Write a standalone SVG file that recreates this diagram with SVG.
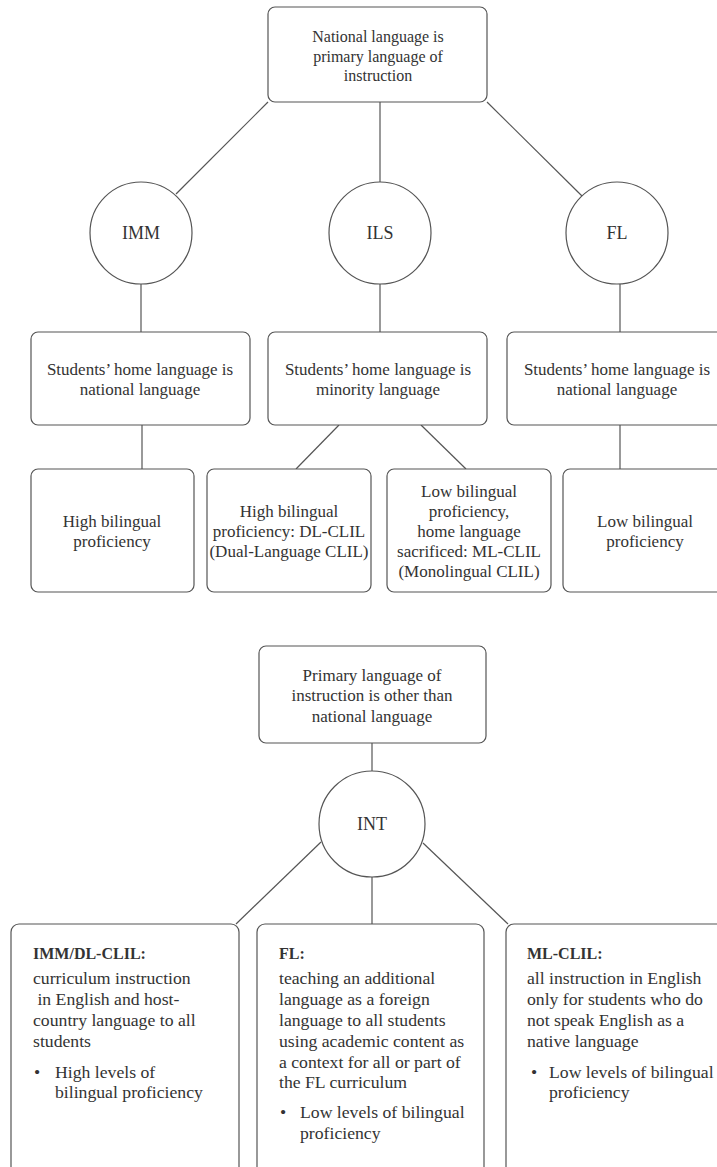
<svg xmlns="http://www.w3.org/2000/svg" width="717" height="1167" viewBox="0 0 717 1167">
<style>
  .box { fill: #fff; stroke: #555; stroke-width: 1.2; }
  .circ { fill: #fff; stroke: #555; stroke-width: 1.2; }
  .edge { stroke: #555; stroke-width: 1.2; fill: none; }
  text { font-family: "Liberation Serif", "Times New Roman", serif; fill: #333; font-size: 17px; }
  .c { text-anchor: middle; }
  .t { font-size: 16px; }
  .lbl { font-size: 18px; }
  .b { font-weight: bold; font-size: 16px; }
  .s { font-size: 17.7px; }
</style>
<rect width="717" height="1167" fill="#fff"/>
<g id="connectors">
  <line class="edge" x1="268" y1="102" x2="176" y2="194"/>
  <line class="edge" x1="380" y1="102" x2="380" y2="182"/>
  <line class="edge" x1="487" y1="102" x2="582" y2="196"/>
  <line class="edge" x1="141" y1="284" x2="141" y2="332"/>
  <line class="edge" x1="380" y1="284" x2="380" y2="332"/>
  <line class="edge" x1="620" y1="284" x2="620" y2="332"/>
  <line class="edge" x1="142" y1="425" x2="142" y2="469"/>
  <line class="edge" x1="339" y1="425" x2="296" y2="469"/>
  <line class="edge" x1="421" y1="425" x2="466" y2="469"/>
  <line class="edge" x1="620" y1="425" x2="620" y2="469"/>
  <line class="edge" x1="372" y1="743" x2="372" y2="771"/>
  <line class="edge" x1="321" y1="842" x2="236" y2="924"/>
  <line class="edge" x1="372" y1="877" x2="372" y2="924"/>
  <line class="edge" x1="423" y1="843" x2="508" y2="924"/>
</g>
<g id="n-national">
  <rect class="box" x="268" y="7" width="219" height="95" rx="7"/>
  <text class="c t" x="378" y="42">National language is</text>
  <text class="c t" x="378" y="62">primary language of</text>
  <text class="c t" x="378" y="81">instruction</text>
</g>
<g id="n-imm">
  <circle class="circ" cx="141" cy="233" r="51"/>
  <text class="c lbl" x="141" y="239">IMM</text>
</g>
<g id="n-ils">
  <circle class="circ" cx="380" cy="233" r="51"/>
  <text class="c lbl" x="380" y="239">ILS</text>
</g>
<g id="n-fl">
  <circle class="circ" cx="617" cy="233" r="51"/>
  <text class="c lbl" x="617" y="239">FL</text>
</g>
<g id="n-home1">
  <rect class="box" x="31" y="332" width="219" height="93" rx="7"/>
  <text class="c" x="140" y="375">Students’ home language is</text>
  <text class="c" x="140" y="395">national language</text>
</g>
<g id="n-home2">
  <rect class="box" x="268" y="332" width="219" height="93" rx="7"/>
  <text class="c" x="378" y="375">Students’ home language is</text>
  <text class="c" x="378" y="395">minority language</text>
</g>
<g id="n-home3">
  <rect class="box" x="507" y="332" width="240" height="93" rx="7"/>
  <text class="c" x="617" y="375">Students’ home language is</text>
  <text class="c" x="617" y="395">national language</text>
</g>
<g id="n-high1">
  <rect class="box" x="31" y="469" width="163" height="123" rx="7"/>
  <text class="c" x="112" y="527">High bilingual</text>
  <text class="c" x="112" y="547">proficiency</text>
</g>
<g id="n-dl">
  <rect class="box" x="207" y="469" width="164" height="123" rx="7"/>
  <text class="c" x="289" y="517">High bilingual</text>
  <text class="c" x="289" y="537">proficiency: DL-CLIL</text>
  <text class="c" x="289" y="557">(Dual-Language CLIL)</text>
</g>
<g id="n-ml">
  <rect class="box" x="387" y="469" width="164" height="123" rx="7"/>
  <text class="c" x="469" y="497">Low bilingual</text>
  <text class="c" x="469" y="517">proficiency,</text>
  <text class="c" x="469" y="537">home language</text>
  <text class="c" x="469" y="557">sacrificed: ML-CLIL</text>
  <text class="c" x="469" y="577">(Monolingual CLIL)</text>
</g>
<g id="n-low1">
  <rect class="box" x="563" y="469" width="180" height="123" rx="7"/>
  <text class="c" x="645" y="527">Low bilingual</text>
  <text class="c" x="645" y="547">proficiency</text>
</g>
<g id="n-primary">
  <rect class="box" x="259" y="646" width="227" height="97" rx="7"/>
  <text class="c" x="372" y="681">Primary language of</text>
  <text class="c" x="372" y="701">instruction is other than</text>
  <text class="c" x="372" y="722">national language</text>
</g>
<g id="n-int">
  <circle class="circ" cx="372" cy="824" r="53"/>
  <text class="c lbl" x="372" y="830">INT</text>
</g>
<g id="n-immdl">
  <rect class="box" x="11" y="924" width="228" height="280" rx="8"/>
  <text class="b" x="33" y="959">IMM/DL-CLIL:</text>
  <text class="s" x="33" y="984">curriculum instruction</text>
  <text class="s" x="33" y="1005" xml:space="preserve"> in English and host-</text>
  <text class="s" x="33" y="1026">country language to all</text>
  <text class="s" x="33" y="1047">students</text>
  <text class="s" x="34" y="1078">•</text>
  <text class="s" x="55" y="1078">High levels of</text>
  <text class="s" x="55" y="1098">bilingual proficiency</text>
</g>
<g id="n-flbox">
  <rect class="box" x="257" y="924" width="227" height="280" rx="8"/>
  <text class="b" x="279" y="959">FL:</text>
  <text class="s" x="279" y="984">teaching an additional</text>
  <text class="s" x="279" y="1005">language as a foreign</text>
  <text class="s" x="279" y="1026">language to all students</text>
  <text class="s" x="279" y="1047">using academic content as</text>
  <text class="s" x="279" y="1068">a context for all or part of</text>
  <text class="s" x="279" y="1088">the FL curriculum</text>
  <text class="s" x="280" y="1118">•</text>
  <text class="s" x="300" y="1118">Low levels of bilingual</text>
  <text class="s" x="300" y="1139">proficiency</text>
</g>
<g id="n-mlclil">
  <rect class="box" x="506" y="924" width="240" height="280" rx="8"/>
  <text class="b" x="527" y="959">ML-CLIL:</text>
  <text class="s" x="527" y="984">all instruction in English</text>
  <text class="s" x="527" y="1005">only for students who do</text>
  <text class="s" x="527" y="1026">not speak English as a</text>
  <text class="s" x="527" y="1047">native language</text>
  <text class="s" x="531" y="1078">•</text>
  <text class="s" x="549" y="1078">Low levels of bilingual</text>
  <text class="s" x="549" y="1098">proficiency</text>
</g>
</svg>
